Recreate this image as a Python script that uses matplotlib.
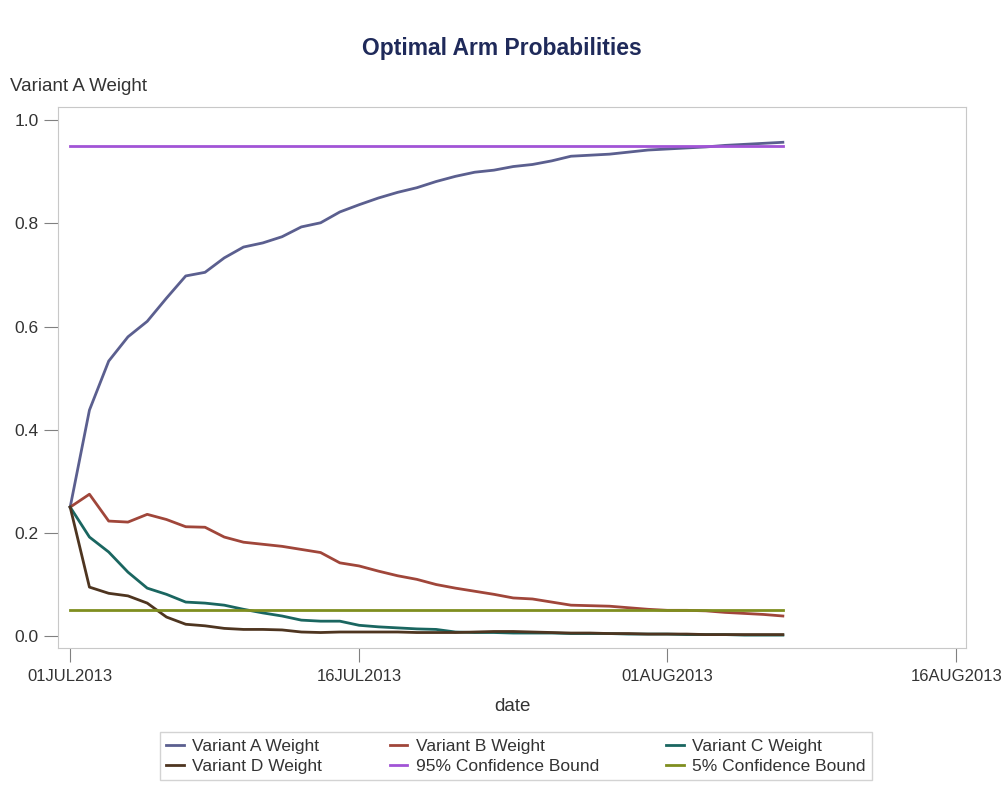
import numpy as np
import pandas as pd
import matplotlib
matplotlib.use('Agg')
import matplotlib.pyplot as plt

plt.rcParams['font.family'] = ['Liberation Sans', 'DejaVu Sans']

# data: daily weights, 01JUL2013 .. 07AUG2013
dates = pd.date_range('2013-07-01', '2013-08-07', freq='D')

variant_a = [0.25, 0.438, 0.533, 0.58, 0.61, 0.655, 0.698, 0.705, 0.733, 0.754,
             0.762, 0.774, 0.793, 0.801, 0.822, 0.836, 0.849, 0.86, 0.869, 0.881,
             0.891, 0.899, 0.903, 0.91, 0.914, 0.921, 0.93, 0.932, 0.934, 0.938,
             0.942, 0.944, 0.946, 0.948, 0.951, 0.953, 0.955, 0.957]
variant_b = [0.25, 0.275, 0.223, 0.221, 0.236, 0.226, 0.212, 0.211, 0.192, 0.182,
             0.178, 0.174, 0.168, 0.162, 0.142, 0.136, 0.126, 0.117, 0.11, 0.10,
             0.093, 0.087, 0.081, 0.074, 0.072, 0.066, 0.06, 0.059, 0.058, 0.055,
             0.052, 0.05, 0.05, 0.049, 0.046, 0.044, 0.042, 0.039]
variant_c = [0.25, 0.192, 0.163, 0.124, 0.093, 0.081, 0.066, 0.064, 0.06, 0.052,
             0.045, 0.039, 0.031, 0.029, 0.029, 0.021, 0.018, 0.016, 0.014, 0.013,
             0.008, 0.007, 0.007, 0.006, 0.006, 0.006, 0.005, 0.005, 0.005, 0.004,
             0.004, 0.004, 0.003, 0.003, 0.003, 0.002, 0.002, 0.002]
variant_d = [0.25, 0.095, 0.083, 0.078, 0.064, 0.037, 0.023, 0.02, 0.015, 0.013,
             0.013, 0.012, 0.008, 0.007, 0.008, 0.008, 0.008, 0.008, 0.007, 0.007,
             0.007, 0.008, 0.009, 0.009, 0.008, 0.007, 0.006, 0.006, 0.005, 0.005,
             0.004, 0.004, 0.004, 0.003, 0.003, 0.003, 0.003, 0.003]
upper_bound = 0.95
lower_bound = 0.05

series = [
    ('Variant A Weight', variant_a, '#5b5f8f'),
    ('Variant B Weight', variant_b, '#a0463a'),
    ('Variant C Weight', variant_c, '#1a6660'),
    ('Variant D Weight', variant_d, '#4e3520'),
    ('95% Confidence Bound', [upper_bound] * len(dates), '#a154d6'),
    ('5% Confidence Bound', [lower_bound] * len(dates), '#7f8e1f'),
]

fig = plt.figure(figsize=(10.04, 8), dpi=100)
ax = fig.add_axes([0.058, 0.19, 0.904, 0.676])

lines = []
for label, vals, color in series:
    ln, = ax.plot(dates, vals, color=color, lw=2, label=label)
    lines.append(ln)

ax.set_ylim(-0.023, 1.025)
ax.set_xlim(pd.Timestamp('2013-07-01') - pd.Timedelta(days=0.62),
            pd.Timestamp('2013-07-01') + pd.Timedelta(days=46.5))
ax.set_yticks([0.0, 0.2, 0.4, 0.6, 0.8, 1.0])
ax.set_yticklabels(['0.0', '0.2', '0.4', '0.6', '0.8', '1.0'])
xt = pd.to_datetime(['2013-07-01', '2013-07-16', '2013-08-01', '2013-08-16'])
ax.set_xticks(xt)
ax.set_xticklabels(['01JUL2013', '16JUL2013', '01AUG2013', '16AUG2013'])

for s in ax.spines.values():
    s.set_color('#c8c8c8')
ax.tick_params(axis='x', colors='#808080', labelcolor='#333333', labelsize=12, length=10, pad=5)
ax.tick_params(axis='y', colors='#808080', labelcolor='#333333', labelsize=12.5, length=10, pad=4)

fig.text(0.5, 0.94, 'Optimal Arm Probabilities', ha='center', va='center',
         fontsize=16.5, fontweight='bold', color='#1f2a5a')
fig.text(0.010, 0.892, 'Variant A Weight', ha='left', va='center',
         fontsize=13.5, color='#333333')
ax.set_xlabel('date', fontsize=13.5, color='#333333', labelpad=10)

# legend filled row by row like the original
order = [0, 3, 1, 4, 2, 5]
leg = fig.legend([lines[i] for i in order], [series[i][0] for i in order],
                 loc='lower left', bbox_to_anchor=(0.151, 0.014, 0.726, 0.062),
                 mode='expand', ncol=3, fontsize=12.5, frameon=True,
                 handlelength=1.0, handletextpad=0.5, borderpad=0.35,
                 labelspacing=0.3, fancybox=False)
leg.get_frame().set_edgecolor('#c8c8c8')
leg.get_frame().set_linewidth(1)
for t in leg.get_texts():
    t.set_color('#333333')

fig.savefig('out.png', dpi=100)
